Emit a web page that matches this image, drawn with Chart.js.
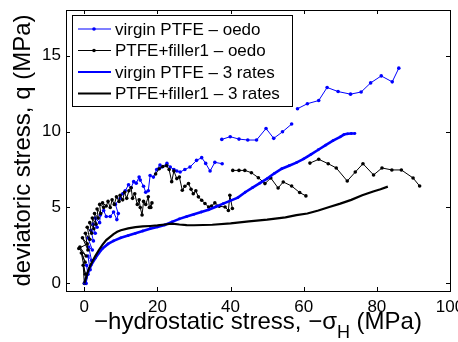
<!DOCTYPE html>
<html>
<head>
<meta charset="utf-8">
<script src="https://cdn.jsdelivr.net/npm/chart.js@4/dist/chart.umd.min.js"></script>
<style>
html, body { margin: 0; padding: 0; background: #fff; }
</style>
</head>
<body>
<canvas id="c" width="458" height="342"></canvas>
<script>
// values (MPa); null splits a series into separate runs
const virginOedoX = [0.5, 1.0, 0.6, 1.6, 1.0, 2.0, 1.2, 2.2, 1.0, 2.5, 1.8, 3.0, 2.4, 3.5, 3.0, 4.2, 4.4, 5.3, 6.0, 7.1, 8.0, 8.9, 9.3, 8.5, 9.8, 10.5, 11.2, 12.1, 12.8, 13.5, 14.2, 15.0, 15.3, 16.2, 16.8, 17.5, 18.0, 18.9, 19.8, 20.7, 21.2, 22.6, 23.5, 24.5, 25.3, 26.2, 27.5, 28.9, 30.7, 32.1, 33.2, 34.4, 35.7, 37.7,
  null, 37.6, 39.9, 42.3, 44.7, 47.1, 49.7, 51.8, 54.2, 56.7,
  null, 58.3, 61.0, 64.1, 66.4, 69.4, 72.8, 75.7, 78.3, 81.2, 84.2, 86.0];
const virginOedoY = [0.0, 0.6, 1.2, 0.9, 1.8, 1.5, 2.4, 2.2, 3.0, 2.8, 3.5, 3.3, 3.9, 3.7, 4.3, 4.0, 4.5, 4.8, 4.4, 4.4, 4.7, 4.2, 4.6, 5.2, 5.6, 5.9, 6.1, 6.5, 6.3, 6.7, 6.6, 7.0, 6.8, 6.4, 6.0, 6.1, 7.1, 7.0, 7.5, 7.8, 7.66, 7.9, 7.66, 7.5, 7.4, 7.33, 7.5, 7.66, 8.1, 8.28, 7.9, 7.4, 7.97, 7.88,
  null, 9.48, 9.66, 9.5, 9.44, 9.44, 10.2, 9.55, 9.98, 10.49,
  null, 11.5, 11.83, 12.04, 12.9, 12.63, 12.46, 12.6, 13.2, 13.66, 13.27, 14.17];

const fillerOedoX = [0.0, -0.3, 0.3, -0.8, 0.2, -1.2, 0.5, -1.5, 0.8, -0.5, 1.0, 0.3, 1.5, 0.8, 2.0, 1.5, 2.6, 2.2, 3.2, 2.8, 3.8, 3.5, 4.5, 4.2, 5.3, 5.0, 6.0, 6.5, 7.1, 7.6, 8.2, 8.8, 9.5, 9.8, 10.5, 11.0, 11.6, 12.2, 12.8, 13.2, 13.8, 14.5, 15.0, 15.3, 15.8, 16.2, 16.8, 17.5, 17.8, 18.5, 18.2,
  null, 19.5, 20.5, 21.5, 22.5, 23.2, 23.9, 24.5, 25.3, 26.0, 26.8, 27.5, 28.5, 29.2, 29.8, 30.5, 31.2, 32.1, 33.0, 34.0, 34.8, 35.7, 36.9, 38.5, 39.4, 39.8, 40.5,
  null, 40.6, 42.3, 43.9, 45.7, 47.6, 49.4, 51.0, 53.0, 54.4, 56.7, 58.9, 60.6,
  null, 61.7, 64.1, 66.7, 68.9, 71.9, 74.1, 76.2, 79.1, 81.4, 84.1, 86.7, 89.9, 91.7];
const fillerOedoY = [0.0, 1.2, 0.6, 2.0, 1.4, 2.4, 1.8, 2.3, 2.6, 3.0, 2.2, 3.3, 2.9, 3.7, 3.3, 4.0, 3.6, 4.3, 3.9, 4.6, 4.3, 4.9, 4.6, 5.2, 5.0, 5.3, 5.1, 5.4, 5.0, 5.5, 5.2, 5.7, 5.4, 5.8, 5.5, 6.0, 5.6, 6.1, 6.3, 5.6, 5.9, 5.2, 5.5, 5.0, 4.5, 5.4, 5.2, 5.7, 5.0, 5.3, 5.0,
  null, 7.2, 7.55, 7.7, 7.75, 7.5, 6.7, 7.4, 6.9, 7.0, 6.13, 6.4, 6.57, 6.2, 5.9, 6.1, 5.7, 5.47, 5.26, 5.03, 5.1, 5.3, 5.08, 5.03, 4.8, 5.8, 4.93,
  null, 7.44, 7.44, 7.44, 7.29, 6.96, 6.57, 6.94, 6.28, 6.68, 6.41, 5.98, 5.76,
  null, 7.92, 8.17, 7.88, 7.6, 6.74, 7.33, 7.88, 7.14, 7.6, 7.47, 7.47, 6.94, 6.41];

const virginRatesX = [0, 0.5, 1, 1.5, 2, 3, 4, 5, 6.5, 8, 10, 12, 14, 16, 18, 20, 22, 24, 26, 28, 30, 32, 34, 36, 38, 40, 42, 44, 46, 48, 50, 52, 54, 56, 58, 60, 62, 64, 66, 68, 70, 71, 72, 73, 74];
const virginRatesY = [0, 0.35, 0.7, 1.0, 1.25, 1.65, 2.0, 2.3, 2.6, 2.8, 3.0, 3.15, 3.3, 3.45, 3.6, 3.72, 3.85, 4.05, 4.25, 4.4, 4.55, 4.7, 4.85, 5.05, 5.25, 5.45, 5.65, 6.0, 6.3, 6.6, 6.9, 7.25, 7.55, 7.75, 7.95, 8.2, 8.5, 8.8, 9.1, 9.4, 9.65, 9.8, 9.85, 9.87, 9.87];

const fillerRatesX = [0, 0.5, 1, 1.5, 2, 3, 4, 5, 6, 7, 8, 9, 10, 12, 14, 16, 18, 20, 22, 24, 26, 28, 30, 35, 40, 45, 50, 55, 58, 61, 64, 67, 70, 73, 76, 79, 81, 83];
const fillerRatesY = [0, 0.4, 0.8, 1.1, 1.35, 1.8, 2.2, 2.55, 2.85, 3.05, 3.25, 3.4, 3.5, 3.62, 3.7, 3.75, 3.78, 3.82, 3.88, 3.94, 3.88, 3.84, 3.83, 3.86, 3.95, 4.08, 4.2, 4.35, 4.49, 4.6, 4.8, 5.03, 5.25, 5.5, 5.8, 6.05, 6.2, 6.37];

const seriesNames = ['virgin PTFE \u2013 oedo', 'PTFE+filler1 \u2013 oedo', 'virgin PTFE \u2013 3 rates', 'PTFE+filler1 \u2013 3 rates'];
const xTicks = [0, 20, 40, 60, 80, 100];
const yTicks = [0, 5, 10, 15];

const FONT = "'Liberation Sans', Arial, Helvetica, sans-serif";

function toPoints(xs, ys) {
    return xs.map((x, i) => ({ x: x, y: ys[i] }));
}

// MATLAB style box with inward ticks on all four sides
const axesBox = {
    id: 'axesBox',
    afterDatasetsDraw(chart) {
        const { ctx, chartArea: a, scales: { x, y } } = chart;
        ctx.save();
        ctx.strokeStyle = '#000';
        ctx.lineWidth = 1;
        ctx.strokeRect(a.left + 0.5, a.top + 0.5, a.right - a.left, a.bottom - a.top);
        ctx.beginPath();
        xTicks.forEach(v => {
            const px = Math.round(x.getPixelForValue(v)) + 0.5;
            ctx.moveTo(px, a.bottom); ctx.lineTo(px, a.bottom - 4);
            ctx.moveTo(px, a.top); ctx.lineTo(px, a.top + 4);
        });
        yTicks.forEach(v => {
            const py = Math.round(y.getPixelForValue(v)) + 0.5;
            ctx.moveTo(a.left, py); ctx.lineTo(a.left + 4, py);
            ctx.moveTo(a.right, py); ctx.lineTo(a.right - 4, py);
        });
        ctx.stroke();
        ctx.restore();
    }
};

// legend box inside the axes, top left
const boxLegend = {
    id: 'boxLegend',
    afterDraw(chart) {
        const ctx = chart.ctx;
        const left = 72, top = 15, w = 220, h = 91;
        ctx.save();
        ctx.fillStyle = '#fff';
        ctx.fillRect(left, top, w, h);
        ctx.strokeStyle = '#000';
        ctx.lineWidth = 1;
        ctx.strokeRect(left + 0.5, top + 0.5, w, h);
        ctx.font = '17px ' + FONT;
        ctx.textBaseline = 'middle';
        chart.data.datasets.forEach((ds, i) => {
            const ly = top + 14 + i * 21.5;
            ctx.strokeStyle = ds.borderColor;
            ctx.lineWidth = ds.borderWidth > 1.5 ? 2 : 1.2;
            ctx.beginPath();
            ctx.moveTo(left + 6, ly);
            ctx.lineTo(left + 39, ly);
            ctx.stroke();
            if (ds.legendDot) {
                ctx.fillStyle = ds.borderColor;
                ctx.beginPath();
                ctx.arc(left + 22, ly, 1.8, 0, Math.PI * 2);
                ctx.fill();
            }
            ctx.fillStyle = '#000';
            ctx.fillText(ds.label, left + 43, ly + 1);
        });
        ctx.restore();
    }
};

// x title with a subscript H
const xTitle = {
    id: 'xTitle',
    afterDraw(chart) {
        const ctx = chart.ctx;
        const a = chart.chartArea;
        const part1 = '\u2212hydrostatic stress, \u2212\u03c3';
        const sub = 'H';
        const part2 = ' (MPa)';
        ctx.save();
        ctx.fillStyle = '#000';
        ctx.textBaseline = 'alphabetic';
        ctx.font = '24px ' + FONT;
        const w1 = ctx.measureText(part1).width;
        const w3 = ctx.measureText(part2).width;
        ctx.font = '18px ' + FONT;
        const w2 = ctx.measureText(sub).width;
        let x0 = (a.left + a.right) / 2 - (w1 + w2 + w3) / 2;
        const base = 329;
        ctx.font = '24px ' + FONT;
        ctx.fillText(part1, x0, base);
        ctx.font = '18px ' + FONT;
        ctx.fillText(sub, x0 + w1, base + 9);
        ctx.font = '24px ' + FONT;
        ctx.fillText(part2, x0 + w1 + w2, base);
        ctx.restore();
    }
};

new Chart(document.getElementById('c'), {
    type: 'line',
    data: {
        datasets: [
            {
                label: seriesNames[0], data: toPoints(virginOedoX, virginOedoY),
                borderColor: '#0000ff', backgroundColor: '#0000ff', borderWidth: 1,
                pointRadius: 1.8, pointBorderWidth: 0, legendDot: true, order: 4
            },
            {
                label: seriesNames[1], data: toPoints(fillerOedoX, fillerOedoY),
                borderColor: '#000000', backgroundColor: '#000000', borderWidth: 1,
                pointRadius: 1.8, pointBorderWidth: 0, legendDot: true, order: 3
            },
            {
                label: seriesNames[2], data: toPoints(virginRatesX, virginRatesY),
                borderColor: '#0000ff', backgroundColor: '#0000ff', borderWidth: 2.6,
                pointRadius: 1.4, pointBorderWidth: 0, order: 2
            },
            {
                label: seriesNames[3], data: toPoints(fillerRatesX, fillerRatesY),
                borderColor: '#000000', backgroundColor: '#000000', borderWidth: 2.2,
                pointRadius: 0, order: 1
            }
        ]
    },
    options: {
        responsive: false,
        animation: false,
        devicePixelRatio: 1,
        spanGaps: false,
        layout: { padding: { left: 0, right: 8, top: 10, bottom: 0 } },
        plugins: {
            legend: { display: false },
            tooltip: { enabled: false }
        },
        scales: {
            x: {
                type: 'linear', min: -5, max: 100,
                grid: { display: false, drawTicks: false },
                border: { display: false },
                afterBuildTicks: s => { s.ticks = xTicks.map(v => ({ value: v })); },
                afterFit: s => { s.height = 51; s.paddingLeft = 0; s.paddingRight = 0; },
                ticks: { font: { family: FONT, size: 17 }, color: '#000', padding: 6, maxRotation: 0, autoSkip: false }
            },
            y: {
                type: 'linear', min: -0.5, max: 18,
                grid: { display: false, drawTicks: false },
                border: { display: false },
                afterBuildTicks: s => { s.ticks = yTicks.map(v => ({ value: v })); },
                afterFit: s => { s.width = 66; s.paddingTop = 0; s.paddingBottom = 0; },
                ticks: { font: { family: FONT, size: 17 }, color: '#000', padding: 5 },
                title: {
                    display: true, text: 'deviatoric stress, q (MPa)',
                    font: { family: FONT, size: 24 }, color: '#000',
                    padding: { top: 9, bottom: 0 }
                }
            }
        }
    },
    plugins: [axesBox, boxLegend, xTitle]
});
</script>
</body>
</html>
